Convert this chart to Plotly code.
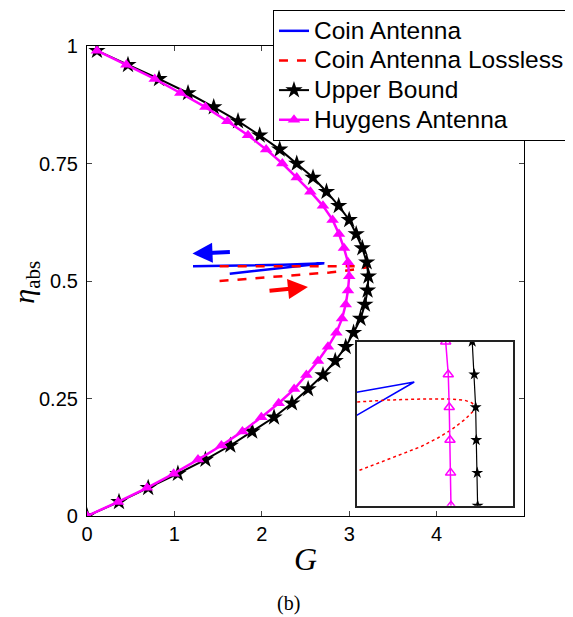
import plotly.graph_objects as go

# ---------------- data ----------------
eta_main = [0.00, 0.03, 0.06, 0.09, 0.12, 0.15, 0.18, 0.21, 0.24, 0.27, 0.30, 0.33,
            0.36, 0.39, 0.42, 0.45, 0.48, 0.51, 0.54, 0.57, 0.60, 0.63, 0.66, 0.69,
            0.72, 0.75, 0.78, 0.81, 0.84, 0.87, 0.90, 0.93, 0.96, 0.99]
upper_G = [0.0, 0.366, 0.70, 1.04, 1.355, 1.64, 1.89, 2.14, 2.345, 2.53, 2.70, 2.84,
           2.96, 3.05, 3.13, 3.18, 3.21, 3.22, 3.20, 3.15, 3.08, 3.00, 2.88, 2.74,
           2.586, 2.40, 2.205, 1.976, 1.728, 1.45, 1.156, 0.824, 0.469, 0.114]
huygens_G = [0.0, 0.355, 0.687, 0.992, 1.27, 1.538, 1.778, 1.995, 2.193, 2.37, 2.51, 2.643,
             2.757, 2.853, 2.918, 2.96, 2.986, 3.00, 2.986, 2.94, 2.883, 2.81, 2.70, 2.556,
             2.40, 2.235, 2.05, 1.842, 1.606, 1.355, 1.068, 0.775, 0.45, 0.114]

coin_G = [1.213, 2.246, 2.715, 2.246, 1.633]
coin_eta = [0.5313, 0.5346, 0.5377, 0.5275, 0.5155]

lossless_G = [1.518, 2.246, 2.503, 2.775, 3.020, 3.128, 3.182, 3.209, 3.211, 3.209,
              3.128, 3.020, 2.910, 2.775, 2.639, 2.503, 2.368, 2.246, 1.480]
lossless_eta = [0.5313, 0.5316, 0.5322, 0.5325, 0.5325, 0.5321, 0.5314, 0.5304, 0.5298, 0.5293,
                0.5263, 0.5232, 0.5207, 0.5181, 0.5161, 0.5140, 0.5120, 0.5100, 0.4994]

# inset (denser sampling near the nose of the curves)
eta_inset = [0.50, 0.51, 0.52, 0.53, 0.54, 0.55]
upper_G_inset = [3.231, 3.228, 3.220, 3.215, 3.204, 3.187]
huygens_G_inset = [3.014, 3.011, 3.006, 3.000, 2.992, 2.971]

# direction arrows: [tail, head]
blue_arrow_G = [1.652, 1.207]
blue_arrow_eta = [0.5617, 0.5583]
red_arrow_G = [2.071, 2.528]
red_arrow_eta = [0.4787, 0.4872]

x_ticks = [0, 1, 2, 3, 4]
y_ticks = [0, 0.25, 0.5, 0.75, 1]
y_tick_text = ["0", "0.25", "0.5", "0.75", "1"]
series_names = ["Coin Antenna", "Coin Antenna Lossless", "Upper Bound", "Huygens Antenna"]

BLUE = "#0000FF"
RED = "#FF0000"
MAGENTA = "#FF00FF"
SANS = "Liberation Sans, Arial, sans-serif"
SERIF = "Liberation Serif, Times New Roman, serif"


def legend_label(s):
    return '<span style="font-size:24.5px">' + s + "</span>"


fig = go.Figure()

# ---------------- main axes ----------------
fig.add_trace(go.Scatter(x=coin_G, y=coin_eta, mode="lines", name=legend_label(series_names[0]),
                         line=dict(color=BLUE, width=2.5)))
fig.add_trace(go.Scatter(x=lossless_G, y=lossless_eta, mode="lines",
                         name=legend_label(series_names[1]),
                         line=dict(color=RED, width=2.5, dash="dash")))
fig.add_trace(go.Scatter(x=upper_G, y=eta_main, mode="lines+markers",
                         name=legend_label(series_names[2]),
                         line=dict(color="black", width=2),
                         marker=dict(symbol="star", size=13, color="black")))
fig.add_trace(go.Scatter(x=huygens_G, y=eta_main, mode="lines+markers",
                         name=legend_label(series_names[3]),
                         line=dict(color=MAGENTA, width=2.5),
                         marker=dict(symbol="triangle-up", size=11, color=MAGENTA)))

# ---------------- inset axes ----------------
fig.add_trace(go.Scatter(x=coin_G, y=coin_eta, mode="lines", showlegend=False,
                         xaxis="x2", yaxis="y2", line=dict(color=BLUE, width=1.5)))
fig.add_trace(go.Scatter(x=lossless_G, y=lossless_eta, mode="lines", showlegend=False,
                         xaxis="x2", yaxis="y2", line=dict(color=RED, width=1.5, dash="dot")))
fig.add_trace(go.Scatter(x=upper_G_inset, y=eta_inset, mode="lines+markers", showlegend=False,
                         xaxis="x2", yaxis="y2", line=dict(color="black", width=1.2),
                         marker=dict(symbol="star", size=9, color="black")))
fig.add_trace(go.Scatter(x=huygens_G_inset, y=eta_inset, mode="lines+markers", showlegend=False,
                         xaxis="x2", yaxis="y2", line=dict(color=MAGENTA, width=1.5),
                         marker=dict(symbol="triangle-up-open", size=9, color=MAGENTA,
                                     line=dict(width=1.5))))

annotations = [
    dict(x=blue_arrow_G[1], y=blue_arrow_eta[1], ax=blue_arrow_G[0], ay=blue_arrow_eta[0],
         xref="x", yref="y", axref="x", ayref="y", text="", showarrow=True,
         arrowhead=2, arrowsize=1, arrowwidth=4, arrowcolor=BLUE),
    dict(x=red_arrow_G[1], y=red_arrow_eta[1], ax=red_arrow_G[0], ay=red_arrow_eta[0],
         xref="x", yref="y", axref="x", ayref="y", text="", showarrow=True,
         arrowhead=2, arrowsize=1, arrowwidth=4, arrowcolor=RED),
    # y-axis title
    dict(x=-0.14, y=0.498, xref="paper", yref="paper", xanchor="center", yanchor="middle",
         text="<i>η</i><sub>abs</sub>", textangle=-90, showarrow=False, borderpad=0,
         font=dict(family=SERIF, size=30, color="black")),
    dict(x=0.46, y=-0.187, xref="paper", yref="paper", xanchor="center", yanchor="middle",
         text="(b)", showarrow=False,
         font=dict(family=SERIF, size=20, color="black")),
]

fig.update_layout(
    width=573, height=617,
    margin=dict(l=79, r=57, t=38, b=109, autoexpand=False),
    paper_bgcolor="white", plot_bgcolor="white",
    font=dict(family=SANS, size=20, color="black"),
    showlegend=True,
    legend=dict(x=0.4256, y=1.0766, xanchor="left", yanchor="top",
                bgcolor="white", bordercolor="black", borderwidth=1,
                font=dict(family=SANS, size=20.5, color="black"),
                itemwidth=30, tracegroupgap=0),
    xaxis=dict(range=[0, 5], tickvals=x_ticks, ticks="inside", ticklen=5,
               showline=True, linecolor="black", linewidth=1.2, mirror="ticks",
               showgrid=False, zeroline=False, tickfont=dict(size=20), automargin=False,
               title=dict(text="<i>G</i>", font=dict(family=SERIF, size=32), standoff=3)),
    yaxis=dict(range=[0, 1], tickvals=y_ticks, ticktext=y_tick_text, ticks="inside", ticklen=5,
               showline=True, linecolor="black", linewidth=1.2, mirror="ticks",
               showgrid=False, zeroline=False, tickfont=dict(size=20), ticklabelstandoff=4,
               automargin=False),
    xaxis2=dict(domain=[0.617, 0.974], anchor="y2", range=[2.246, 3.516],
                showline=True, linecolor="#222", linewidth=1.5, mirror=True,
                ticks="", showticklabels=False, showgrid=False, zeroline=False),
    yaxis2=dict(domain=[0.022, 0.371], anchor="x2", range=[0.50, 0.55],
                showline=True, linecolor="#222", linewidth=1.5, mirror=True,
                ticks="", showticklabels=False, showgrid=False, zeroline=False),
    annotations=annotations,
)

fig.write_html("out.html")
